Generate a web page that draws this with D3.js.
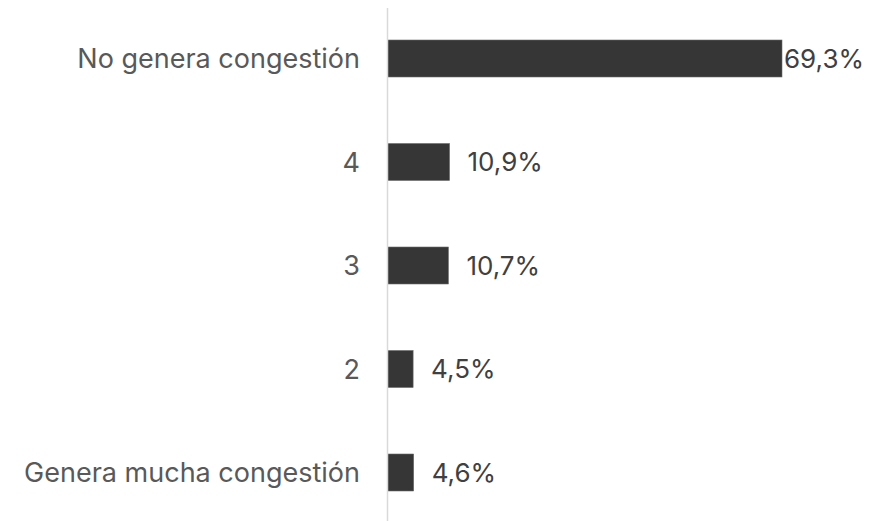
<!DOCTYPE html>
<html>
<head>
<meta charset="utf-8">
<script src="https://cdn.jsdelivr.net/npm/d3@7"></script>
<style>
  html, body { margin: 0; padding: 0; background: #ffffff; }
  svg { display: block; }
</style>
</head>
<body>
<svg id="chart" width="884" height="521"></svg>
<script>
const categories = ["No genera congestión", "4", "3", "2", "Genera mucha congestión"];
const values = [69.3, 10.9, 10.7, 4.5, 4.6];
const valueLabels = ["69,3%", "10,9%", "10,7%", "4,5%", "4,6%"];

const W = 884, H = 521;
const svg = d3.select("#chart");
const x0 = 387.5;

const x = d3.scaleLinear().domain([0, 69.3]).range([x0, 782]);
const y = d3.scaleBand().domain(categories).range([6.75, 524.25])
  .paddingInner(0.6425).paddingOuter(0.32125);

const font = "Inter, 'Liberation Sans', Arial, sans-serif";

// bars
svg.append("g").selectAll("rect").data(values).join("rect")
  .attr("x", x(0))
  .attr("y", (d, i) => y(categories[i]))
  .attr("width", d => x(d) - x(0))
  .attr("height", y.bandwidth())
  .attr("fill", "#363636")
  .attr("stroke", "#6b6b6b")
  .attr("stroke-width", 0.6);

// axis line
svg.append("line")
  .attr("x1", x0).attr("x2", x0)
  .attr("y1", 8).attr("y2", H)
  .attr("stroke", "#d9d9d9").attr("stroke-width", 1.5);

// category labels
svg.append("g").selectAll("text").data(categories).join("text")
  .attr("x", 360)
  .attr("y", d => y(d) + y.bandwidth() / 2)
  .attr("dy", "0.36em")
  .attr("text-anchor", "end")
  .attr("font-family", font)
  .attr("font-size", 27)
  .attr("font-weight", 370)
  .attr("fill", "#595959")
  .text(d => d);

// value labels
svg.append("g").selectAll("text").data(values).join("text")
  .attr("x", d => x(d) + (d > 50 ? 2 : 18))
  .attr("y", (d, i) => y(categories[i]) + y.bandwidth() / 2)
  .attr("dy", "0.36em")
  .attr("font-family", font)
  .attr("font-size", 26)
  .attr("font-weight", 370)
  .attr("fill", "#404040")
  .text((d, i) => valueLabels[i]);
</script>
</body>
</html>
